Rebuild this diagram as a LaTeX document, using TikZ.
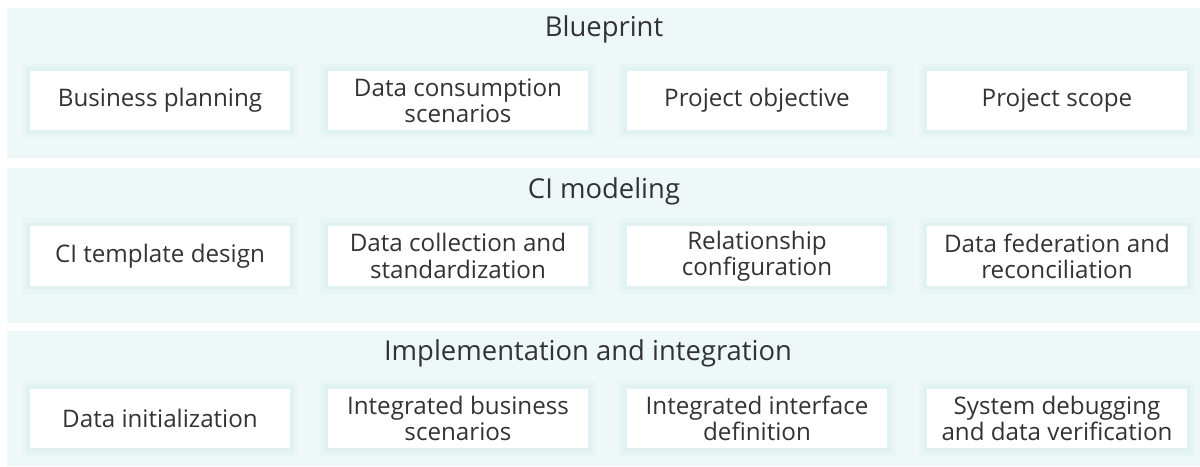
\documentclass[tikz,border=0pt]{standalone}
\usepackage{fontspec}
\setmainfont{Open Sans}
\usepackage{xcolor}
\definecolor{bandbg}{HTML}{EEF8F8}
\definecolor{glow}{HTML}{D2ECEC}
\definecolor{txt}{HTML}{333333}

\tikzset{
    band/.style={fill=bandbg},
    heading/.style={text=txt, font=\fontsize{19.5}{22}\selectfont},
    itembox/.style={fill=white, text=txt, align=center,
        minimum width=6.5cm, minimum height=1.475cm, inner sep=0pt,
        font=\fontsize{17.2}{18.6}\selectfont,
        preaction={draw=glow, line width=12pt, opacity=0.2},
        preaction={draw=glow, line width=5pt, opacity=0.35}}
}

\begin{document}
\begin{tikzpicture}[x=0.025cm, y=-0.025cm]
            \useasboundingbox (0,0) rectangle (1200,466);
            \fill[white] (0,0) rectangle (1200,466);
            \fill[band] (7,8) rectangle (1200,158);
            \fill[band] (7,168) rectangle (1200,323);
            \fill[band] (7,331) rectangle (1200,466);

            \node[heading] (blueprint) at (604,29) {Blueprint};
            \node[heading] (cimodel) at (604,191) {CI modeling};
            \node[heading] (implement) at (588,353) {Implementation and integration};

            % blueprint row
            \node[itembox] (bp1) at (160,100.5) {Business planning};
            \node[itembox] (bp2) at (458,100.5) {Data consumption\\scenarios};
            \node[itembox] (bp3) at (757,100.5) {Project objective};
            \node[itembox] (bp4) at (1057,100.5) {Project scope};

            % CI modeling row
            \node[itembox] (ci1) at (160,256) {CI template design};
            \node[itembox] (ci2) at (458,256) {Data collection and\\standardization};
            \node[itembox] (ci3) at (757,256) {Relationship\\configuration};
            \node[itembox] (ci4) at (1057,256) {Data federation and\\reconciliation};

            % implementation row
            \node[itembox] (im1) at (160,418.5) {Data initialization};
            \node[itembox] (im2) at (458,418.5) {Integrated business\\scenarios};
            \node[itembox] (im3) at (757,418.5) {Integrated interface\\definition};
            \node[itembox] (im4) at (1057,418.5) {System debugging\\and data verification};

        \end{tikzpicture}
\end{document}
